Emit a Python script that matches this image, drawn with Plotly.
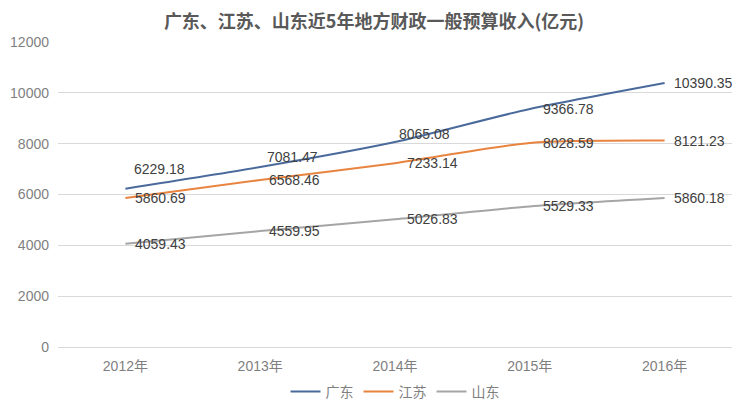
import plotly.graph_objects as go

years = ["2012年", "2013年", "2014年", "2015年", "2016年"]
guangdong = [6229.18, 7081.47, 8065.08, 9366.78, 10390.35]
jiangsu = [5860.69, 6568.46, 7233.14, 8028.59, 8121.23]
shandong = [4059.43, 4559.95, 5026.83, 5529.33, 5860.18]

names = ["广东", "江苏", "山东"]
colors = ["#4A6A9C", "#E8843F", "#A5A5A5"]

# label offsets in px (x, y) so labels sit like in the original
shifts = [
    [(7, 20), (5, 10), (2, 8), (11, 0), (7, 0)],
    [(8, 0), (7, 0), (10, 0), (11, 0), (7, 0)],
    [(8, 0), (7, 0), (10, 0), (11, 0), (7, 0)],
]

FONT = "Liberation Sans, Noto Sans CJK SC"

# page body has an 8px margin, so the figure is a bit smaller than the window
W, H = 732, 408


def main():
    fig = go.Figure()
    annotations = []
    series = [guangdong, jiangsu, shandong]
    for i in range(len(series)):
        fig.add_trace(go.Scatter(
            x=years,
            y=series[i],
            mode="lines",
            name=names[i],
            line=dict(color=colors[i], width=2, shape="spline", smoothing=0.7),
        ))
        for j in range(len(years)):
            annotations.append(dict(
                x=years[j], y=series[i][j], xref="x", yref="y",
                text=f"{series[i][j]:.2f}",
                showarrow=False, xanchor="left", yanchor="middle",
                xshift=shifts[i][j][0], yshift=shifts[i][j][1],
                font=dict(family=FONT, size=14, color="#404040"),
            ))

    fig.update_layout(
        width=W, height=H,
        margin=dict(l=50, r=8, t=34, b=62),
        paper_bgcolor="white", plot_bgcolor="white",
        title=dict(
            text="<b>广东、江苏、山东近5年地方财政一般预算收入(亿元)</b>",
            x=0.5, xanchor="center", y=1 - 14 / H, yanchor="middle",
            font=dict(family="Noto Sans CJK SC", size=18, color="#595959"),
        ),
        xaxis=dict(
            range=[-0.5, 4.5], showgrid=False, showline=False, ticks="",
            automargin=False, ticklabelstandoff=9,
            tickfont=dict(family=FONT, size=14, color="#7F7F7F"),
        ),
        yaxis=dict(
            range=[0, 12000], dtick=2000, tickformat="d",
            gridcolor="#D9D9D9", gridwidth=1,
            zeroline=True, zerolinecolor="#D9D9D9", zerolinewidth=1,
            showline=False, ticks="", automargin=False, ticklabelstandoff=8,
            tickfont=dict(family=FONT, size=14, color="#7F7F7F"),
        ),
        legend=dict(
            orientation="h", x=0.5, xanchor="center", y=-0.147, yanchor="middle",
            font=dict(family=FONT, size=14, color="#7F7F7F"),
            itemwidth=30,
        ),
        annotations=annotations,
    )
    fig.write_html("out.html")


if __name__ == "__main__":
    main()
